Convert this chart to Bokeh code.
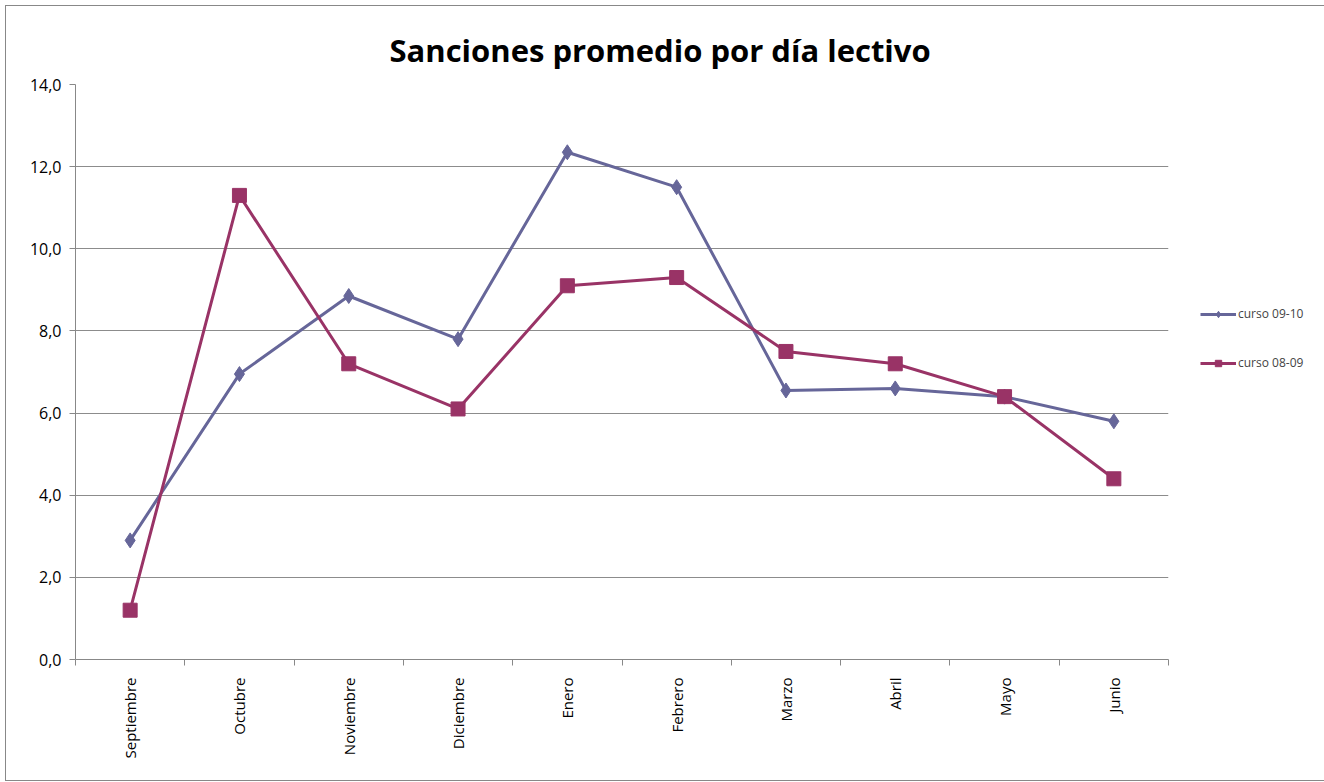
from bokeh.plotting import figure
from bokeh.models import FixedTicker, Legend, LegendItem, Range1d, Title
from bokeh.embed import file_html
from bokeh.resources import INLINE

months = ["Septiembre", "Octubre", "Noviembre", "Diciembre", "Enero",
          "Febrero", "Marzo", "Abril", "Mayo", "Junio"]
curso_09_10 = [2.9, 6.95, 8.85, 7.8, 12.35, 11.5, 6.55, 6.6, 6.4, 5.8]
curso_08_09 = [1.2, 11.3, 7.2, 6.1, 9.1, 9.3, 7.5, 7.2, 6.4, 4.4]
y_ticks = [0, 2, 4, 6, 8, 10, 12, 14]

xs = [i + 0.5 for i in range(len(months))]

p = figure(width=1312, height=772, output_backend="svg", toolbar_location=None,
           x_range=Range1d(0, len(months)), y_range=Range1d(0, 14),
           frame_width=1093, frame_height=575,
           min_border_left=69, min_border_right=0, min_border_bottom=121, min_border_top=78,
           background_fill_color="white", border_fill_color="white",
           margin=(5, 0, 0, 5),
           styles={"border": "1px solid #888888"})
p.outline_line_color = None

p.add_layout(Title(text="Sanciones promedio por día lectivo", align="left",
                   text_font="Open Sans", text_font_size="31px", text_font_style="bold",
                   text_color="#000000", offset=314, standoff=28), "above")

# axes
p.xaxis.ticker = FixedTicker(ticks=xs, minor_ticks=list(range(len(months) + 1)))
p.xaxis.major_label_overrides = {x: m for x, m in zip(xs, months)}
p.xaxis.major_label_orientation = 1.5708
p.xaxis.major_tick_out = 0
p.xaxis.major_tick_in = 0
p.xaxis.minor_tick_out = 6
p.xaxis.minor_tick_in = 0
p.xaxis.minor_tick_line_color = "#888888"
p.xaxis.axis_line_color = "#888888"
p.xaxis.major_label_text_font = "Open Sans"
p.xaxis.major_label_text_font_size = "15px"
p.xaxis.major_label_text_color = "#000000"
p.xaxis.major_label_standoff = 12

p.yaxis.ticker = FixedTicker(ticks=y_ticks, minor_ticks=[])
p.yaxis.major_label_overrides = {v: f"{v:.1f}".replace(".", ",") for v in y_ticks}
p.yaxis.major_tick_out = 6
p.yaxis.major_tick_in = 0
p.yaxis.major_tick_line_color = "#888888"
p.yaxis.axis_line_color = "#888888"
p.yaxis.major_label_text_font = "Open Sans"
p.yaxis.major_label_text_font_size = "16px"
p.yaxis.major_label_text_color = "#000000"
p.yaxis.major_label_standoff = 8

p.xgrid.grid_line_color = None
p.ygrid.ticker = FixedTicker(ticks=y_ticks)
p.ygrid.grid_line_color = "#8c8c8c"
p.ygrid.grid_line_width = 1

blue = "#666699"
red = "#993366"

l1 = p.line(xs, curso_09_10, line_color=blue, line_width=3)
m1 = p.scatter(xs, curso_09_10, marker="diamond", size=15, fill_color=blue, line_color=blue)
l2 = p.line(xs, curso_08_09, line_color=red, line_width=3)
m2 = p.scatter(xs, curso_08_09, marker="square", size=14, fill_color=red, line_color=red)

legend = Legend(items=[LegendItem(label="curso 09-10", renderers=[l1, m1]),
                       LegendItem(label="curso 08-09", renderers=[l2, m2])],
                location=(32, 288), spacing=32, glyph_width=36, glyph_height=16,
                label_text_font="Open Sans", label_text_font_size="12px",
                label_standoff=2, border_line_color=None, background_fill_alpha=0,
                padding=0, margin=0)
p.add_layout(legend, "right")

open("out.html", "w").write(file_html(p, INLINE))
